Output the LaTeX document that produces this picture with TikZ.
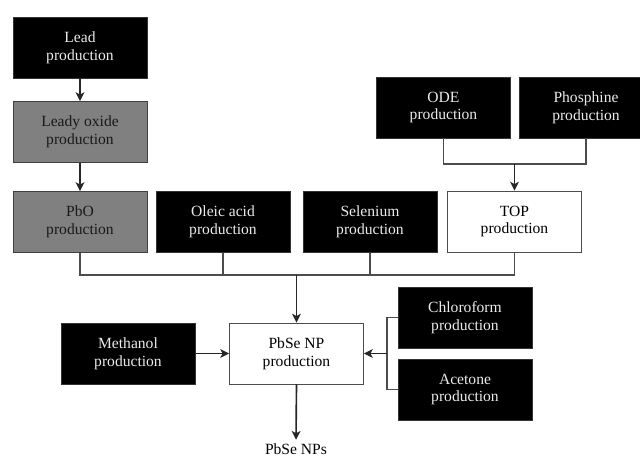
\documentclass[tikz,border=0pt]{standalone}
\usepackage{fontspec}
\setmainfont{Liberation Serif}
\usetikzlibrary{arrows.meta}
\begin{document}
\begin{tikzpicture}
[
x=0.03cm, y=-0.03cm,
box/.style={rectangle, minimum width=4.02cm, minimum height=1.83cm, inner sep=0, align=center, font=\fontsize{13.3}{15}\selectfont},
blackbox/.style={box, fill=black, draw=black!80, text=white!92!black},
greybox/.style={box, fill=black!50, draw=black!75, line width=0.8pt, text=black!90},
whitebox/.style={box, fill=white, draw=black!70, line width=0.8pt},
link/.style={draw=black!70, line width=0.9pt},
flow/.style={-{Stealth[length=7.5pt,width=7.5pt,inset=2pt]}, draw=black!85, line width=1.4pt}
]
\useasboundingbox (0,0) rectangle (640,456);
\clip (0,0) rectangle (640,456);
%Nodes
\node[blackbox] at(80,47.5)		(lead) {Lead\\production};
\node[greybox] at(80,132)		(oxide) {Leady oxide\\production};
\node[greybox] at(80,222)		(pbo) {PbO\\production};
\node[blackbox] at(223,222)		(oleic) {Oleic acid\\production};
\node[blackbox] at(370,222)		(selen) {Selenium\\production};
\node[whitebox] at(514.5,221.5)		(top) {TOP\\production};
\node[blackbox] at(443.5,107.5)		(ode) {ODE\\production};
\node[blackbox] at(586,107.5)		(phos) {Phosphine\\production};
\node[blackbox] at(128,353.5)		(meth) {Methanol\\production};
\node[whitebox] at(296.5,353.5)		(pbse) {PbSe NP\\production};
\node[blackbox] at(465,317.5)		(chloro) {Chloroform\\production};
\node[blackbox] at(465,389.5)		(acet) {Acetone\\production};
\node[font=\fontsize{13.3}{15}\selectfont, inner sep=0pt] at(296,449)		(nps) {PbSe NPs};
%Junctions
\coordinate (topin) at(514.5,164);
\coordinate (mix) at(296.5,275);
\coordinate (solv) at(387,353.5);
%Connectors
\draw[flow] (lead) -- (oxide);
\draw[flow] (oxide) -- (pbo);
\draw[link] (ode.south) |- (topin) -| (phos.south);
\draw[flow] (topin) -- (top.north);
\draw[link] (pbo.south) |- (mix) -| (top.south);
\draw[link] (oleic.south) -- (oleic.south |- mix);
\draw[link] (selen.south) -- (selen.south |- mix);
\draw[flow] (mix) -- (pbse.north);
\draw[flow, line width=1.1pt] (meth) -- (pbse);
\draw[link] (chloro.west) -| (solv);
\draw[link] (acet.west) -| (solv);
\draw[flow] (solv) -- (pbse.east);
\draw[flow] (pbse.south) -- ([yshift=3pt]nps.north);
\end{tikzpicture}
\end{document}
